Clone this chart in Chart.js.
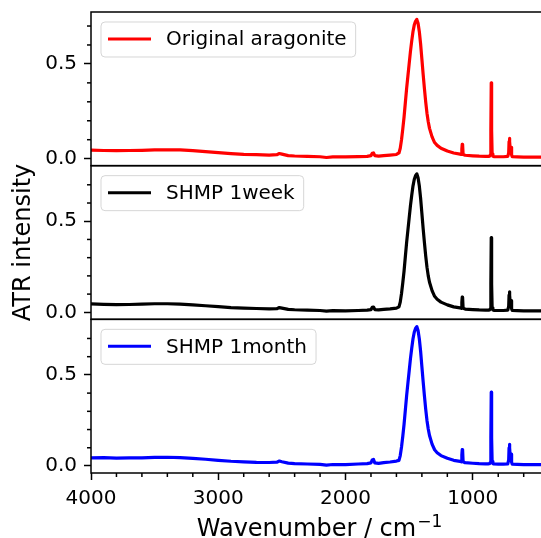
<!DOCTYPE html>
<html>
<head>
<meta charset="utf-8">
<script src="https://cdn.jsdelivr.net/npm/chart.js@4.4.0/dist/chart.umd.min.js"></script>
<style>
  html, body { margin: 0; padding: 0; background: #fff; }
  #wrap { width: 541px; height: 538px; }
</style>
</head>
<body>
<div id="wrap"><canvas id="atrChart" width="541" height="538"></canvas></div>
<script>
// wavenumbers in cm-1, shared by the three spectra
const wavenumbers = [
  4000, 3900, 3800, 3700, 3600, 3500, 3400, 3300, 3200, 3100, 3000, 2900, 2800, 2700, 2600,
  2540, 2520, 2500, 2450, 2400,
  2300, 2200, 2150, 2100, 2000,
  1900, 1830, 1800, 1790, 1780, 1770, 1740, 1700, 1650, 1600,
  1580, 1570, 1560, 1550, 1540, 1530, 1520, 1510, 1500, 1490,
  1480, 1470, 1460, 1450, 1440, 1430, 1420, 1410, 1400, 1390,
  1380, 1370, 1360, 1350, 1340, 1320, 1300, 1280, 1250, 1200,
  1150, 1100, 1090, 1086, 1083, 1080, 1076, 1060, 1000, 950,
  900, 875, 868, 862, 858, 855, 852, 848, 842, 835,
  800, 760, 725, 718, 715, 712, 709, 706, 702, 699,
  695, 690, 650, 600, 550, 500, 460
];

const originalAragonite = [
  0.045, 0.043, 0.042, 0.043, 0.044, 0.046, 0.047, 0.046, 0.042, 0.037, 0.032, 0.027, 0.023, 0.021, 0.019,
  0.021, 0.027, 0.024, 0.016, 0.014,
  0.012, 0.010, 0.006, 0.009, 0.009,
  0.011, 0.012, 0.016, 0.028, 0.030, 0.016, 0.013, 0.016, 0.019, 0.022,
  0.030, 0.055, 0.100, 0.157, 0.220, 0.295, 0.370, 0.435, 0.500, 0.565,
  0.620, 0.670, 0.705, 0.725, 0.735, 0.715, 0.670, 0.605, 0.525, 0.445,
  0.370, 0.300, 0.240, 0.195, 0.160, 0.115, 0.085, 0.070, 0.055, 0.040,
  0.030, 0.024, 0.022, 0.050, 0.076, 0.074, 0.022, 0.018, 0.015, 0.013,
  0.012, 0.012, 0.013, 0.020, 0.150, 0.400, 0.150, 0.025, 0.013, 0.011,
  0.010, 0.010, 0.012, 0.030, 0.090, 0.107, 0.090, 0.050, 0.055, 0.060,
  0.020, 0.010, 0.009, 0.008, 0.008, 0.008, 0.008
];

const shmp1week = [
  0.046, 0.044, 0.042, 0.043, 0.045, 0.047, 0.047, 0.045, 0.041, 0.036, 0.031, 0.026, 0.023, 0.021, 0.019,
  0.020, 0.026, 0.023, 0.016, 0.014,
  0.012, 0.010, 0.007, 0.009, 0.008,
  0.010, 0.012, 0.015, 0.027, 0.029, 0.015, 0.013, 0.016, 0.019, 0.023,
  0.030, 0.056, 0.103, 0.162, 0.227, 0.305, 0.383, 0.450, 0.517, 0.584,
  0.641, 0.693, 0.729, 0.750, 0.760, 0.739, 0.693, 0.626, 0.543, 0.460,
  0.383, 0.310, 0.248, 0.200, 0.165, 0.119, 0.088, 0.072, 0.056, 0.041,
  0.030, 0.024, 0.022, 0.055, 0.083, 0.081, 0.022, 0.018, 0.015, 0.013,
  0.012, 0.012, 0.013, 0.020, 0.155, 0.410, 0.155, 0.025, 0.013, 0.011,
  0.010, 0.010, 0.012, 0.032, 0.095, 0.113, 0.095, 0.052, 0.058, 0.064,
  0.020, 0.010, 0.009, 0.008, 0.008, 0.008, 0.008
];

const shmp1month = [
  0.044, 0.046, 0.043, 0.044, 0.045, 0.047, 0.048, 0.046, 0.042, 0.037, 0.031, 0.026, 0.023, 0.020, 0.019,
  0.021, 0.027, 0.023, 0.016, 0.013,
  0.011, 0.009, 0.005, 0.008, 0.008,
  0.011, 0.013, 0.017, 0.033, 0.036, 0.017, 0.014, 0.018, 0.022, 0.027,
  0.031, 0.057, 0.104, 0.163, 0.229, 0.307, 0.385, 0.453, 0.520, 0.588,
  0.645, 0.697, 0.734, 0.755, 0.765, 0.744, 0.697, 0.630, 0.546, 0.463,
  0.385, 0.312, 0.250, 0.203, 0.167, 0.120, 0.089, 0.073, 0.057, 0.042,
  0.031, 0.025, 0.023, 0.060, 0.090, 0.088, 0.023, 0.018, 0.015, 0.013,
  0.012, 0.012, 0.013, 0.020, 0.155, 0.405, 0.155, 0.025, 0.013, 0.011,
  0.010, 0.010, 0.012, 0.033, 0.100, 0.119, 0.100, 0.053, 0.060, 0.065,
  0.020, 0.010, 0.009, 0.008, 0.008, 0.008, 0.008
];

const seriesLabels = ['Original aragonite', 'SHMP 1week', 'SHMP 1month'];
const seriesColors = ['#ff0000', '#000000', '#0000ff'];
const panelAxes = ['yTop', 'yMid', 'yBot'];

const xMajorTicks = [4000, 3000, 2000, 1000];
const xMinorTicks = [3800, 3600, 3400, 3200, 2800, 2600, 2400, 2200, 1800, 1600, 1400, 1200, 800, 600];
const yMajorTicks = [0, 0.5];
const yMinorTicks = [0.1, 0.2, 0.3, 0.4, 0.6, 0.7];

const xTitle = 'Wavenumber / cm';
const xTitleSup = '\u22121';

const FONT = 'DejaVu Sans';

// frames, minor ticks, x label with superscript and per-panel legends
const panelDecor = {
    id: 'panelDecor',
    afterDraw(chart) {
        const ctx = chart.ctx;
        const xs = chart.scales.x;
        ctx.save();
        ctx.strokeStyle = '#000';
        ctx.lineWidth = 1.5;

        panelAxes.forEach(id => {
            const s = chart.scales[id];
            ctx.strokeRect(xs.left, s.top, xs.right - xs.left + 2, s.bottom - s.top);
            yMinorTicks.forEach(v => {
                const py = s.getPixelForValue(v);
                ctx.beginPath();
                ctx.moveTo(xs.left - 4, py);
                ctx.lineTo(xs.left, py);
                ctx.stroke();
            });
        });

        xMinorTicks.forEach(v => {
            const px = xs.getPixelForValue(v);
            ctx.beginPath();
            ctx.moveTo(px, xs.top);
            ctx.lineTo(px, xs.top + 4);
            ctx.stroke();
        });

        // x axis title, cm^-1 as a real superscript
        ctx.fillStyle = '#000';
        ctx.textBaseline = 'alphabetic';
        ctx.textAlign = 'left';
        ctx.font = '24px "' + FONT + '"';
        const mainW = ctx.measureText(xTitle).width;
        ctx.font = '17px "' + FONT + '"';
        const supW = ctx.measureText(xTitleSup).width;
        const tx = (xs.left + xs.right) / 2 + 3 - (mainW + supW) / 2;
        ctx.font = '24px "' + FONT + '"';
        ctx.fillText(xTitle, tx, 536);
        ctx.font = '17px "' + FONT + '"';
        ctx.fillText(xTitleSup, tx + mainW + 1, 527);

        // legends
        ctx.font = '20px "' + FONT + '"';
        chart.data.datasets.forEach((ds, i) => {
            const s = chart.scales[panelAxes[i]];
            const left = xs.left + 10;
            const top = s.top + 10;
            const w = 74 + ctx.measureText(ds.label).width;
            const h = 35;
            ctx.beginPath();
            ctx.roundRect(left, top, w, h, 4);
            ctx.fillStyle = 'rgba(255,255,255,0.8)';
            ctx.fill();
            ctx.lineWidth = 1;
            ctx.strokeStyle = 'rgba(204,204,204,0.8)';
            ctx.stroke();

            ctx.beginPath();
            ctx.lineWidth = 3;
            ctx.strokeStyle = ds.borderColor;
            ctx.moveTo(left + 7, top + 17);
            ctx.lineTo(left + 50, top + 17);
            ctx.stroke();

            ctx.fillStyle = '#000';
            ctx.textBaseline = 'middle';
            ctx.fillText(ds.label, left + 65, top + 18);
        });
        ctx.restore();
    }
};

function yPanel(min, max, title) {
    return {
        type: 'linear',
        position: 'left',
        stack: 'panels',
        stackWeight: 1,
        min: min,
        max: max,
        afterFit: s => { s.width = 91; s.paddingTop = 0; s.paddingBottom = 0; },
        afterBuildTicks: s => { s.ticks = yMajorTicks.map(v => ({ value: v })); },
        ticks: {
            callback: v => v.toFixed(1),
            font: { family: FONT, size: 20 },
            color: '#000',
            padding: 7
        },
        grid: { drawOnChartArea: false, tickLength: 7, tickWidth: 1.5, tickColor: '#000' },
        border: { display: false },
        title: {
            display: !!title,
            text: title,
            font: { family: FONT, size: 24 },
            color: '#000',
            padding: { top: 9, bottom: 0 }
        }
    };
}

const ctx = document.getElementById('atrChart').getContext('2d');
new Chart(ctx, {
    type: 'line',
    data: {
        datasets: [originalAragonite, shmp1week, shmp1month].map((vals, i) => ({
            label: seriesLabels[i],
            data: wavenumbers.map((w, k) => ({ x: w, y: vals[k] })),
            borderColor: seriesColors[i],
            borderWidth: 3.2,
            borderJoinStyle: 'round',
            pointRadius: 0,
            tension: 0,
            fill: false,
            yAxisID: panelAxes[i]
        }))
    },
    options: {
        responsive: false,
        animation: false,
        devicePixelRatio: 1,
        layout: { padding: { top: 12, right: 0, left: 0, bottom: 0 } },
        plugins: {
            legend: { display: false },
            tooltip: { enabled: false }
        },
        scales: {
            x: {
                type: 'linear',
                position: 'bottom',
                reverse: true,
                min: 464,
                max: 4000,
                afterFit: s => { s.height = 65; },
                afterBuildTicks: s => { s.ticks = xMajorTicks.map(v => ({ value: v })); },
                ticks: {
                    callback: v => String(v),
                    font: { family: FONT, size: 20 },
                    color: '#000',
                    padding: 7,
                    maxRotation: 0,
                    autoSkip: false
                },
                grid: { drawOnChartArea: false, tickLength: 7, tickWidth: 1.5, tickColor: '#000' },
                border: { display: false },
                title: { display: false }
            },
            // stacked panels: last defined is placed on top
            yBot: yPanel(-0.0385, 0.805, ''),
            yMid: yPanel(-0.0385, 0.805, 'ATR intensity'),
            yTop: yPanel(-0.037, 0.774, '')
        }
    },
    plugins: [panelDecor]
});
</script>
</body>
</html>
